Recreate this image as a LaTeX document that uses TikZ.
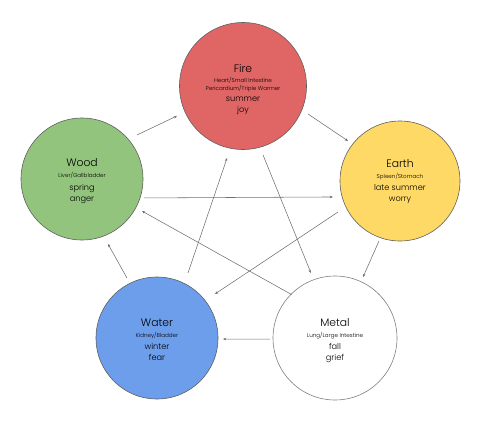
\documentclass[tikz,border=0pt]{standalone}
\usepackage{fontspec}
\IfFontExistsTF{Poppins Light}{\setmainfont{Poppins Light}}{\setmainfont{Poppins}}
\usetikzlibrary{calc,arrows.meta}
\definecolor{firec}{HTML}{E06666}
\definecolor{woodc}{HTML}{93C47D}
\definecolor{earthc}{HTML}{FFD966}
\definecolor{waterc}{HTML}{6D9EEB}
\definecolor{linec}{HTML}{6F6F6F}
\definecolor{edgec}{HTML}{5F5F5F}
\tikzset{
  elem/.style={circle, draw=edgec, line width=0.6pt, inner sep=0pt, outer sep=0pt, minimum size=#1},
  ttl/.style={anchor=base, inner sep=0pt, font=\fontsize{10.8}{12}\selectfont},
  org/.style={anchor=base, inner sep=0pt, font=\fontsize{5.6}{6}\selectfont},
  med/.style={anchor=base, inner sep=0pt, font=\fontsize{8.2}{9}\selectfont},
  arr/.style={draw=linec, line width=0.55pt, -{Stealth[length=3.2pt,width=2.6pt]}}
}
\begin{document}
\begin{tikzpicture}[x=1pt,y=-1pt]
\useasboundingbox (0,0) rectangle (485,426);
% circles
\node[elem=127pt, fill=firec] (fire) at (243,86) {};
\node[elem=122pt, fill=woodc] (wood) at (82,179) {};
\node[elem=120pt, fill=earthc] (earth) at (400,181) {};
\node[elem=122pt, fill=waterc] (water) at (157,338) {};
\node[elem=124pt, fill=white, draw=gray] (metal) at (335,338) {};
% Fire text
\node[ttl] (fire1) at ($(fire)+(0,-13.3)$) {Fire};
\node[org] (fire2) at ($(fire)+(0,-3.3)$) {Heart/Small Intestine};
\node[org] (fire3) at ($(fire)+(0,4)$) {Pericardium/Triple Warmer};
\node[med] (fire4) at ($(fire)+(0,15.7)$) {summer};
\node[med] (fire5) at ($(fire)+(0,26)$) {joy};
% Wood text
\node[ttl] (wood1) at ($(wood)+(0,-12.3)$) {Wood};
\node[org] (wood2) at ($(wood)+(0,-1.3)$) {Liver/Gallbladder};
\node[med] (wood3) at ($(wood)+(0,11)$) {spring};
\node[med] (wood4) at ($(wood)+(0,22.7)$) {anger};
% Earth text
\node[ttl] (earth1) at ($(earth)+(0,-13.3)$) {Earth};
\node[org] (earth2) at ($(earth)+(0,-2.7)$) {Spleen/Stomach};
\node[med] (earth3) at ($(earth)+(0,9)$) {late summer};
\node[med] (earth4) at ($(earth)+(0,20)$) {worry};
% Water text
\node[ttl] (water1) at ($(water)+(0,-12)$) {Water};
\node[org] (water2) at ($(water)+(0,-0.7)$) {Kidney/Bladder};
\node[med] (water3) at ($(water)+(0,11)$) {winter};
\node[med] (water4) at ($(water)+(0,22)$) {fear};
% Metal text
\node[ttl] (metal1) at ($(metal)+(0,-12)$) {Metal};
\node[org] (metal2) at ($(metal)+(0,-0.7)$) {Lung/Large Intestine};
\node[med] (metal3) at ($(metal)+(0,11)$) {fall};
\node[med] (metal4) at ($(metal)+(0,22)$) {grief};
% generating cycle
\draw[arr] ($(wood)+(38.7:70.4pt)$) -- ($(fire)+(204.4:72.5pt)$);
\draw[arr] ($(fire)+(-23.3:70.8pt)$) -- ($(earth)+(142.4:65.6pt)$);
\draw[arr] ($(earth)+(250.7:63.6pt)$) -- ($(metal)+(65.3:67.1pt)$);
\draw[arr] ($(metal)+(180.9:65pt)$) -- ($(water)+(-0.9:66pt)$);
\draw[arr] ($(water)+(116.6:67.1pt)$) -- ($(wood)+(-68.2:70pt)$);
% controlling cycle
\draw[arr] ($(wood)+(-17:64.8pt)$) -- ($(earth)+(193.4:68.9pt)$);
\draw[arr] ($(earth)+(206.6:69.3pt)$) -- ($(water)+(37.2:72.8pt)$);
\draw[arr] ($(water)+(64.5:72pt)$) -- ($(fire)+(257.5:73.8pt)$);
\draw[arr] ($(fire)+(-73.8:71.8pt)$) -- ($(metal)+(110.3:69.3pt)$);
\draw[arr] ($(metal)+(135:61.5pt)$) -- ($(wood)+(-28.1:68pt)$);
\end{tikzpicture}
\end{document}
